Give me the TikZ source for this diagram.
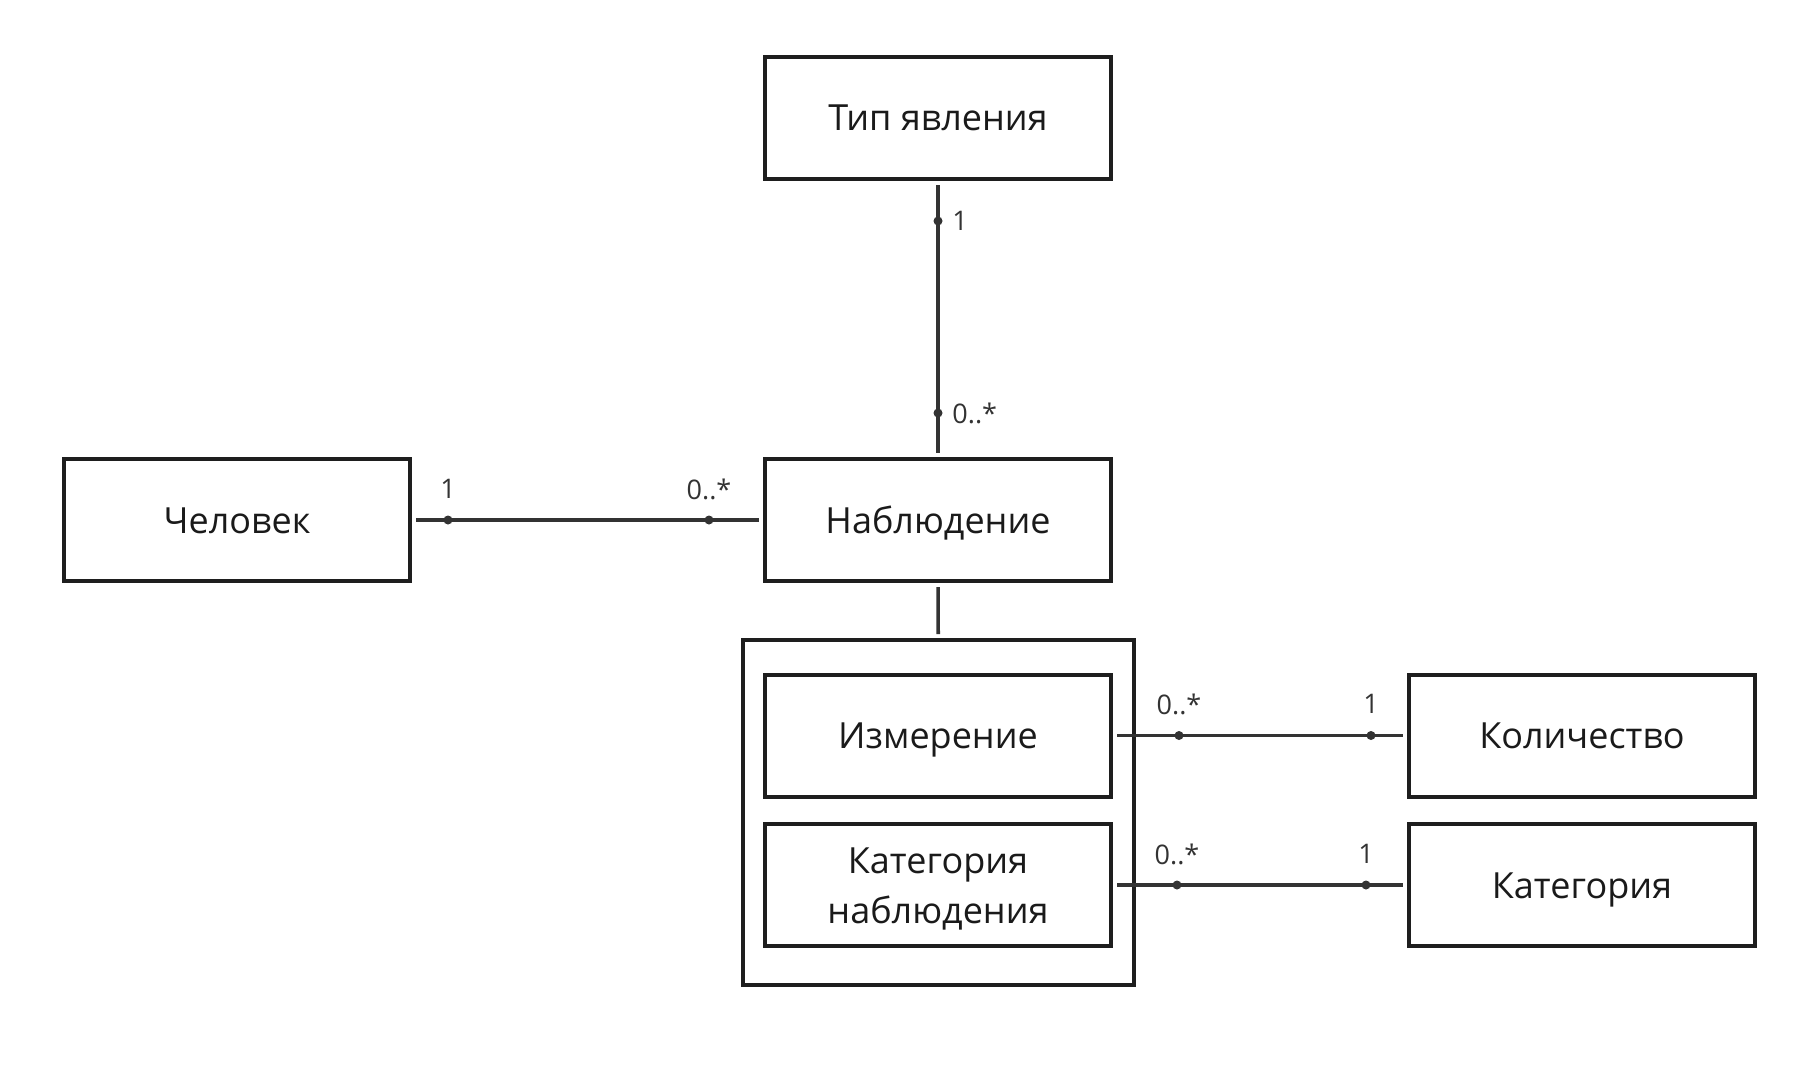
\documentclass[tikz,border=0pt]{standalone}
\usepackage{fontspec}
\setmainfont{Open Sans}
\definecolor{boxcol}{HTML}{1E1E1E}
\definecolor{linecol}{HTML}{333333}
\definecolor{txtcol}{HTML}{1A1A1A}
\begin{document}
\begin{tikzpicture}[x=0.5pt, y=-0.5pt,
    box/.style={draw=boxcol, line width=2pt, minimum width=173pt, minimum height=61pt, inner sep=0pt,
      align=center, text=txtcol, text height=13pt, text depth=0pt, font=\fontsize{18}{25}\selectfont},
    mult/.style={inner sep=0pt, text=linecol, font=\fontsize{13.5}{15}\selectfont},
    dot/.style={circle, fill=linecol, inner sep=0pt, minimum size=4.5pt},
    link/.style={draw=linecol, line width=1.8pt, shorten <=2pt, shorten >=2pt}]

    \useasboundingbox (0,0) rectangle (1810,1081);

    % Nodes
    \node[box] (tip) at (938,118) {Тип явления};
    \node[box] (chel) at (237,520) {Человек};
    \node[box] (nabl) at (938,520) {Наблюдение};
    \node[box, minimum width=195.5pt, minimum height=172.5pt] (group) at (938.5,812.5) {};
    \node[box] (izm) at (938,735.5) {Измерение};
    \node[box, text height=38pt] (katnabl) at (938,885) {Категория\\наблюдения};
    \node[box] (kol) at (1582,735.5) {Количество};
    \node[box] (kat) at (1582,885) {Категория};

    % Edges
    \draw[link] (tip) -- (nabl);
    \draw[link] (chel) -- (nabl);
    \draw[link] (nabl) -- (group);
    \draw[link] (izm) -- (kol);
    \draw[link] (katnabl) -- (kat);

    % Multiplicity dots
    \node[dot] (d1) at (938,221) {};
    \node[dot] (d2) at (938,413) {};
    \node[dot] (d3) at (448,520) {};
    \node[dot] (d4) at (709,520) {};
    \node[dot] (d5) at (1179,735.5) {};
    \node[dot] (d6) at (1371,735.5) {};
    \node[dot] (d7) at (1177,885) {};
    \node[dot] (d8) at (1366,885) {};

    % Multiplicity labels
    \node[mult, anchor=west] (m1) at (952,221) {1};
    \node[mult, anchor=west] (m2) at (952,413) {0..*};
    \node[mult] (m3) at (448,489) {1};
    \node[mult] (m4) at (709,489) {0..*};
    \node[mult] (m5) at (1179,704) {0..*};
    \node[mult] (m6) at (1371,704) {1};
    \node[mult] (m7) at (1177,854) {0..*};
    \node[mult] (m8) at (1366,854) {1};
\end{tikzpicture}
\end{document}
